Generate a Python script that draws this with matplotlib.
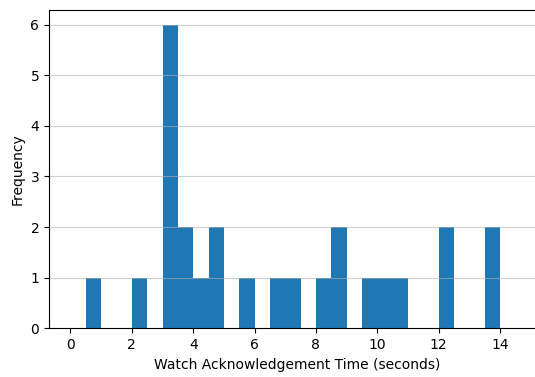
import matplotlib
matplotlib.use("Agg")
import matplotlib.pyplot as plt
import numpy as np

# Histogram bins (left edges, width 0.5 s) and counts
bin_lefts = [0.5, 2.0, 3.0, 3.5, 4.0, 4.5, 5.5, 6.5, 7.0, 8.0, 8.5, 9.5, 10.0, 10.5, 12.0, 13.5]
counts = [1, 1, 6, 2, 1, 2, 1, 1, 1, 1, 2, 1, 1, 1, 2, 2]
bin_width = 0.5
x_ticks = [0, 2, 4, 6, 8, 10, 12, 14]
y_ticks = [0, 1, 2, 3, 4, 5, 6]

edges = np.arange(0, 14 + bin_width, bin_width)
centers = np.array(bin_lefts) + bin_width / 2

fig = plt.figure(figsize=(5.35, 3.77), dpi=100)
ax = fig.add_axes([49 / 535, 48.7 / 377, 497 / 535, 318.8 / 377])
ax.hist(centers, bins=edges, weights=counts, color="#1f77b4")
ax.grid(axis="y", alpha=0.6)
ax.set_xlim(-0.7, 15.5)
ax.set_ylim(0, 6.3)
ax.set_xticks(x_ticks)
ax.set_yticks(y_ticks)
ax.tick_params(labelsize=10)
ax.set_xlabel("Watch Acknowledgement Time (seconds)", fontsize=10)
ax.set_ylabel("Frequency", fontsize=10)

fig.savefig("out.png", dpi=100)
